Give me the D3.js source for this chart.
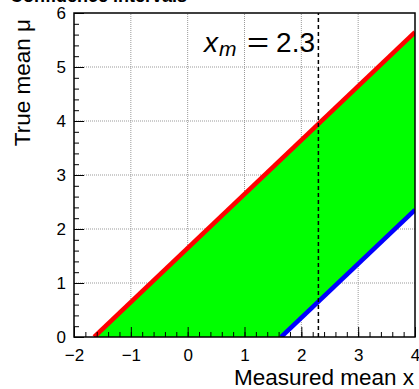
<!DOCTYPE html>
<html>
<head>
<meta charset="utf-8">
<script src="https://cdn.jsdelivr.net/npm/d3@7"></script>
<style>
  body { margin: 0; background: #fff; }
  svg { display: block; font-family: "Liberation Sans", Arial, sans-serif; }
</style>
</head>
<body>
<svg id="chart" width="419" height="389"></svg>
<script>
// axis ranges and ticks
const xDomain = [-2, 4];
const yDomain = [0, 6];
const xTicks = [-2, -1, 0, 1, 2, 3, 4];
const yTicks = [0, 1, 2, 3, 4, 5, 6];
// confidence belt edges (x, mu)
const upperEdge = [[-1.645, 0], [4, 5.645]];
const lowerEdge = [[1.645, 0], [4, 2.355]];
const xMeasured = 2.3;

const margin = {left: 74, right: 4, top: 13, bottom: 52};
const W = 419, H = 389;

const svg = d3.select('#chart');
const x = d3.scaleLinear().domain(xDomain).range([margin.left, W - margin.right]);
const y = d3.scaleLinear().domain(yDomain).range([H - margin.bottom, margin.top]);

// clip to frame
svg.append('clipPath').attr('id', 'clip')
  .append('rect')
  .attr('x', x(xDomain[0])).attr('y', y(yDomain[1]))
  .attr('width', x(xDomain[1]) - x(xDomain[0]))
  .attr('height', y(yDomain[0]) - y(yDomain[1]));

// grid
const grid = svg.append('g');
xTicks.slice(1, -1).forEach(t => {
  grid.append('line')
    .attr('x1', x(t)).attr('x2', x(t))
    .attr('y1', y(yDomain[0])).attr('y2', y(yDomain[1]))
    .attr('stroke', '#999').attr('stroke-width', 1).attr('stroke-dasharray', '1,1');
});
yTicks.slice(1, -1).forEach(t => {
  grid.append('line')
    .attr('y1', y(t)).attr('y2', y(t))
    .attr('x1', x(xDomain[0])).attr('x2', x(xDomain[1]))
    .attr('stroke', '#999').attr('stroke-width', 1).attr('stroke-dasharray', '1,1');
});

const plot = svg.append('g').attr('clip-path', 'url(#clip)');

// green band between the edges
const line = d3.line().x(d => x(d[0])).y(d => y(d[1]));
const band = upperEdge.concat(lowerEdge.slice().reverse());
plot.append('path')
  .attr('d', line(band) + 'Z')
  .attr('fill', '#00ff00');

plot.append('path').attr('d', line(upperEdge))
  .attr('fill', 'none').attr('stroke', '#ff0000').attr('stroke-width', 4.5);
plot.append('path').attr('d', line(lowerEdge))
  .attr('fill', 'none').attr('stroke', '#0000ff').attr('stroke-width', 4.5);

// measured value
plot.append('line')
  .attr('x1', x(xMeasured)).attr('x2', x(xMeasured))
  .attr('y1', y(yDomain[0])).attr('y2', y(yDomain[1]))
  .attr('stroke', '#000').attr('stroke-width', 1.5).attr('stroke-dasharray', '4,3');

// axes (ticks pointing inward)
const minorX = d3.range(-2, 4.001, 0.2);
const minorY = d3.range(0, 6.001, 0.2);
const fmt = d3.format('d');

svg.append('g')
  .attr('transform', `translate(0,${y(yDomain[0])})`)
  .call(d3.axisBottom(x).tickValues(minorX).tickSize(-5).tickFormat(''))
  .call(g => g.select('.domain').remove());
const xAxis = svg.append('g')
  .attr('transform', `translate(0,${y(yDomain[0])})`)
  .call(d3.axisBottom(x).tickValues(xTicks).tickSize(-10).tickPadding(12).tickFormat(fmt));
xAxis.select('.domain').remove();
xAxis.selectAll('text').attr('font-size', 17).attr('fill', '#000');

svg.append('g')
  .attr('transform', `translate(${x(xDomain[0])},0)`)
  .call(d3.axisLeft(y).tickValues(minorY).tickSize(-5).tickFormat(''))
  .call(g => g.select('.domain').remove());
const yAxis = svg.append('g')
  .attr('transform', `translate(${x(xDomain[0])},0)`)
  .call(d3.axisLeft(y).tickValues(yTicks).tickSize(-10).tickPadding(8).tickFormat(fmt));
yAxis.select('.domain').remove();
yAxis.selectAll('text').attr('font-size', 17).attr('fill', '#000');

// frame
svg.append('rect')
  .attr('x', x(xDomain[0])).attr('y', y(yDomain[1]))
  .attr('width', x(xDomain[1]) - x(xDomain[0]))
  .attr('height', y(yDomain[0]) - y(yDomain[1]))
  .attr('fill', 'none').attr('stroke', '#000').attr('stroke-width', 1.5);

// annotation  x_m = 2.3
const ann = svg.append('g').attr('font-size', 28);
ann.append('text').attr('x', 204).attr('y', 52).attr('font-style', 'italic').text('x');
ann.append('text').attr('x', 219).attr('y', 56).attr('font-style', 'italic').attr('font-size', 21).text('m');
ann.append('text').attr('x', 258).attr('y', 52).attr('text-anchor', 'middle')
  .attr('transform', 'translate(258,0) scale(1.35,1) translate(-258,0)').text('=');
ann.append('text').attr('x', 315).attr('y', 52).attr('text-anchor', 'end').text('2.3');

// titles
svg.append('text')
  .attr('x', 10).attr('y', 2)
  .attr('font-size', 18).attr('font-weight', 'bold')
  .text('Confidence intervals');

svg.append('text')
  .attr('text-anchor', 'end')
  .attr('x', W - 5).attr('y', 385)
  .attr('font-size', 22.5)
  .text('Measured mean x');

svg.append('text')
  .attr('text-anchor', 'end')
  .attr('transform', `translate(30,19) rotate(-90)`)
  .attr('font-size', 22.5)
  .text('True mean μ');
</script>
</body>
</html>
